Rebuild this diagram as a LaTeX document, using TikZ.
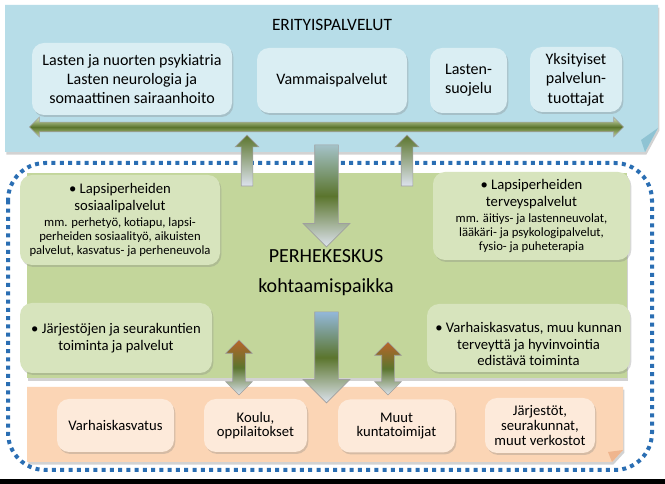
\documentclass[tikz,border=0pt]{standalone}
\usepackage{fontspec}
\setmainfont{Carlito}
\usetikzlibrary{shapes.arrows,shadows}

\definecolor{sininen}{HTML}{B7DDE8}
\definecolor{sininentaite}{HTML}{8FC3D3}
\definecolor{sininenlaat}{HTML}{DAEEF3}
\definecolor{vihrea}{HTML}{C3D69B}
\definecolor{vihrealaat}{HTML}{D7E4BD}
\definecolor{oranssi}{HTML}{FBD5B5}
\definecolor{oranssitaite}{HTML}{EFB58E}
\definecolor{oranssilaat}{HTML}{FDEADA}
\definecolor{oliivi}{HTML}{5B752D}
\definecolor{ruskea}{HTML}{B8652A}
\definecolor{harmaasin}{HTML}{DDE3EE}
\definecolor{sinertava}{HTML}{A4C2C8}
\definecolor{vaaleansin}{HTML}{93B8DA}
\definecolor{pisteet}{HTML}{2A6EB3}

\newcommand\pieni[1]{{\fontsize{9.5}{10.5}\selectfont #1}}

\begin{document}
\begin{tikzpicture}[x=0.75pt,y=-0.75pt,
  varjo/.style={drop shadow={shadow xshift=1pt,shadow yshift=-2pt,opacity=.35}},
  laatikko/.style={rounded corners=9pt,align=center,inner sep=0pt,text=black,
    drop shadow={shadow xshift=1pt,shadow yshift=-1.5pt,opacity=.3}},
  sinilaatikko/.style={laatikko,fill=sininenlaat,font=\fontsize{12}{14.6}\selectfont},
  vihrealaatikko/.style={laatikko,fill=vihrealaat,font=\fontsize{11}{12.5}\selectfont},
  oranssilaatikko/.style={laatikko,fill=oranssilaat,font=\fontsize{11}{11}\selectfont},
  nuoli/.style={draw=gray!75,line width=0.5pt},
  ylosnuoli/.style={nuoli,single arrow,shape border rotate=90,inner sep=4.125pt,
    single arrow head extend=4.5pt,top color=oliivi,bottom color=harmaasin},
  alasnuoli/.style={nuoli,single arrow,shape border rotate=270,inner sep=8.625pt,
    single arrow head extend=8.625pt,top color=#1,bottom color=harmaasin,middle color=oliivi},
  kaksinuoli/.style={nuoli,double arrow,shape border rotate=90,inner sep=4.5pt,
    double arrow head extend=5.25pt,top color=ruskea,bottom color=harmaasin,middle color=oliivi}
]
\useasboundingbox (0,0) rectangle (665,484);
\fill[white] (0,0) rectangle (665,484);
\fill[black] (0,479) rectangle (665,484);

% ligne pointillee autour du centre
\draw[pisteet,line width=3pt,dash pattern=on 3pt off 3.2pt,rounded corners=28pt]
  (8,163) rectangle (652,470);

% panneau bleu
\fill[sininen,varjo] (5,5) -- (658,5) -- (658,128) -- (645,152) -- (5,152) -- cycle;
\fill[sininentaite] (658,128) -- (645,152) -- (641,140) -- cycle;
\node[font=\fontsize{13}{15}\selectfont] (erityis) at (332,25) {ERITYISPALVELUT};

\node[sinilaatikko,minimum width=150pt,minimum height=54pt] (psyk) at (132,79)
  {Lasten ja nuorten psykiatria\\Lasten neurologia ja\\somaattinen sairaanhoito};
\node[sinilaatikko,minimum width=112.5pt,minimum height=48.75pt] (vamm) at (332,80.5)
  {Vammaispalvelut};
\node[sinilaatikko,minimum width=57.75pt,minimum height=48.75pt] (lsuoj) at (468.5,80.5)
  {Lasten-\\suojelu};
\node[sinilaatikko,minimum width=69pt,minimum height=48.75pt] (yksit) at (576,79.5)
  {Yksityiset\\palvelun-\\tuottajat};

% panneau vert
\fill[vihrea,varjo] (27,173) rectangle (627,378);
\node[font=\fontsize{15}{17}\selectfont] (perhe) at (326,256) {PERHEKESKUS};
\node[font=\fontsize{15}{17}\selectfont] (kohtaa) at (326,287) {kohtaamispaikka};

\node[vihrealaatikko,minimum width=150pt,minimum height=67.5pt] (sos) at (120,220)
  {\textbullet\ Lapsiperheiden\\sosiaalipalvelut\\[-0.5pt]
   \pieni{mm. perhetyö, kotiapu, lapsi-}\\[-2pt]\pieni{perheiden sosiaalityö, aikuisten}\\[-2pt]
   \pieni{palvelut, kasvatus- ja perheneuvola}};
\node[vihrealaatikko,minimum width=147.75pt,minimum height=66pt] (terv) at (531.5,216)
  {\textbullet\ Lapsiperheiden\\terveyspalvelut\\[-0.5pt]
   \pieni{mm. äitiys- ja lastenneuvolat,}\\[-2pt]\pieni{lääkäri- ja psykologipalvelut,}\\[-2pt]
   \pieni{fysio- ja puheterapia}};
\node[vihrealaatikko,minimum width=144pt,minimum height=52.5pt] (jarj) at (116,338)
  {\textbullet\ Järjestöjen ja seurakuntien\\toiminta ja palvelut};
\node[vihrealaatikko,minimum width=152.25pt,minimum height=51pt] (varh) at (528.5,338)
  {\rule{0pt}{17pt}\textbullet\ Varhaiskasvatus, muu kunnan\\terveyttä ja hyvinvointia\\edistävä toiminta};

% panneau orange
\fill[oranssi,varjo] (27,387) -- (623,387) -- (623,450) -- (612,462) -- (27,462) -- cycle;
\fill[oranssitaite] (623,450) -- (612,462) -- (608,452) -- cycle;

\node[oranssilaatikko,minimum width=87.75pt,minimum height=39.75pt] (varhk) at (115.5,425.5)
  {Varhaiskasvatus};
\node[oranssilaatikko,minimum width=77.25pt,minimum height=39.75pt] (koulu) at (255.5,425.5)
  {Koulu,\\oppilaitokset};
\node[oranssilaatikko,minimum width=87.75pt,minimum height=39.75pt] (muut) at (396.5,426)
  {Muut\\kuntatoimijat};
\node[oranssilaatikko,minimum width=82.5pt,minimum height=41.25pt] (jarjv) at (540,425.5)
  {Järjestöt,\\seurakunnat,\\muut verkostot};

% fleches
\node[nuoli,double arrow,inner sep=3.375pt,double arrow head extend=3.75pt,
  minimum height=445.5pt,top color=vihrealaat,bottom color=vihrea,middle color=oliivi]
  (vaaka) at (326.5,127) {};
\node[ylosnuoli,minimum height=38.25pt] (ylos1) at (247,163.5) {};
\node[ylosnuoli,minimum height=38.25pt] (ylos2) at (407,163.5) {};
\node[alasnuoli=sinertava,minimum height=76.5pt] (alas1) at (326.5,190) {};
\node[alasnuoli=vaaleansin,minimum height=68.25pt] (alas2) at (326.5,351.5) {};
\node[kaksinuoli,minimum height=41.25pt] (kaksi1) at (239,367.5) {};
\node[kaksinuoli,minimum height=39.75pt] (kaksi2) at (388,368.5) {};
\end{tikzpicture}
\end{document}
